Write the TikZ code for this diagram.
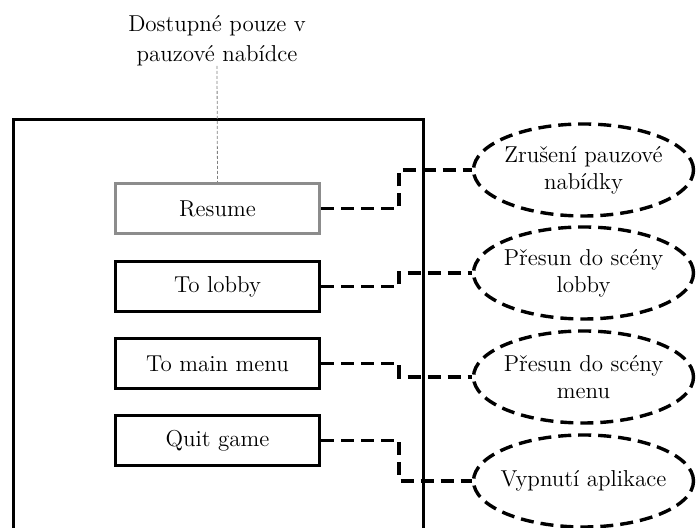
\documentclass[tikz,border=0pt]{standalone}
\usetikzlibrary{shapes.geometric}
\begin{document}
\begin{tikzpicture}[x=0.5pt,y=-0.5pt,
  txt/.style={font=\fontsize{11.5}{13.5}\selectfont, align=center},
  btn/.style={txt, draw, line width=1.6pt, minimum width=102pt, minimum height=25pt, inner sep=0pt},
  btngray/.style={btn, draw=gray!90},
  act/.style={ellipse, draw, line width=1.7pt, dash pattern=on 6.5pt off 3.5pt, minimum width=110pt, minimum height=46pt, inner sep=0pt},
  conn/.style={line width=1.7pt, dash pattern=on 6.5pt off 3.5pt},
  notel/.style={draw=gray, line width=0.4pt, dash pattern=on 1.5pt off 1pt}]
\useasboundingbox (0,0) rectangle (697,528);
\clip (0,0) rectangle (697,528);
% main frame
\draw[line width=1.7pt] (13.5,560) -- (13.5,119.5) -- (423.5,119.5) -- (423.5,560);
% buttons
\node[btngray] (resume) at (217.5,208.5) {Resume};
\node[btn] (lobby) at (217.5,286.5) {To lobby};
\node[btn] (menu) at (217.5,363.5) {To main menu};
\node[btn] (quit) at (217.5,440.5) {Quit game};
% actions
\node[act] (e1) at (583.5,170) {};
\node[act] (e2) at (583.5,273) {};
\node[act] (e3) at (583.5,377) {};
\node[act] (e4) at (583.5,481) {};
\node[txt] (t1) at (e1) {Zrušení pauzové\\nabídky};
\node[txt] (t2) at (e2) {Přesun do scény\\lobby};
\node[txt] (t3) at (e3) {Přesun do scény\\menu};
\node[txt] (t4) at (e4) {Vypnutí aplikace};
% note
\node[txt, font=\fontsize{11.5}{15}\selectfont, anchor=south, inner sep=0pt] (note) at (217,66) {Dostupné pouze v\\pauzové nabídce};
\draw[notel] (note.south) -- (resume.north);
% connectors
\draw[conn] (resume.east) -- ++(78,0) |- (e1.west);
\draw[conn] (lobby.east) -- ++(78,0) |- (e2.west);
\draw[conn] (menu.east) -- ++(78,0) |- (e3.west);
\draw[conn] (quit.east) -- ++(78,0) |- (e4.west);
\end{tikzpicture}
\end{document}
